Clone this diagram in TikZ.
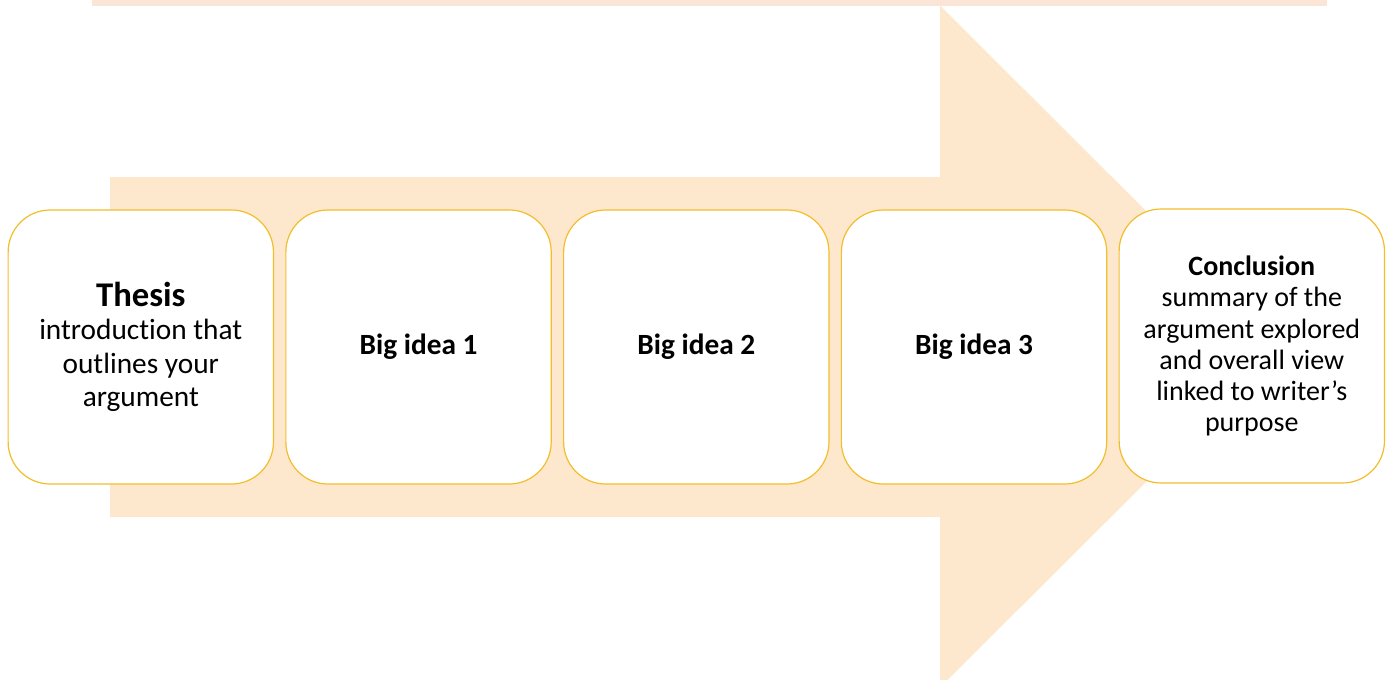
\documentclass[tikz,border=0pt]{standalone}
\usepackage{fontspec}
\setmainfont{Carlito}[RawFeature={-liga,-dlig}]
\usepackage{tikz}
\usepackage{xcolor}
\usetikzlibrary{positioning}

\definecolor{peach}{RGB}{254,232,205}
\definecolor{blush}{RGB}{251,229,214}
\definecolor{gold}{RGB}{242,190,44}

\begin{document}
\begin{tikzpicture}[x=0.75pt,y=-0.75pt,
    stage/.style={draw=gold,line width=0.9pt,fill=white,rounded corners=31.5pt,
        minimum width=199pt,minimum height=205.5pt,inner sep=0pt,align=center,
        font=\fontsize{22}{25}\selectfont},
    idea/.style={stage,font=\fontsize{22}{25}\selectfont\bfseries},
    closing/.style={stage,font=\fontsize{21}{23.3}\selectfont}
]
\useasboundingbox (0,0) rectangle (1390,679);
\begin{scope}
\clip (0,0) rectangle (1390,679);
\fill[blush] (92,0) rectangle (1326.5,5.5);
\fill[peach] (110,177) -- (940,177) -- (940,5.5) -- (1282,346.5)
    -- (940,687.5) -- (940,517) -- (110,517) -- cycle;
\end{scope}
\node[stage] (thesis) at (140.8,347)
    {{\fontsize{26}{28}\selectfont\bfseries Thesis}\\introduction that\\outlines your\\argument};
\foreach \x/\n in {418.55/1,696.3/2,974.05/3}
    \node[idea] (idea\n) at (\x,347) {Big idea \n};
\node[closing] (conclusion) at (1251.8,346)
    {\textbf{Conclusion}\\summary of the\\argument explored\\and overall view\\linked to writer’s\\purpose};
\end{tikzpicture}
\end{document}
